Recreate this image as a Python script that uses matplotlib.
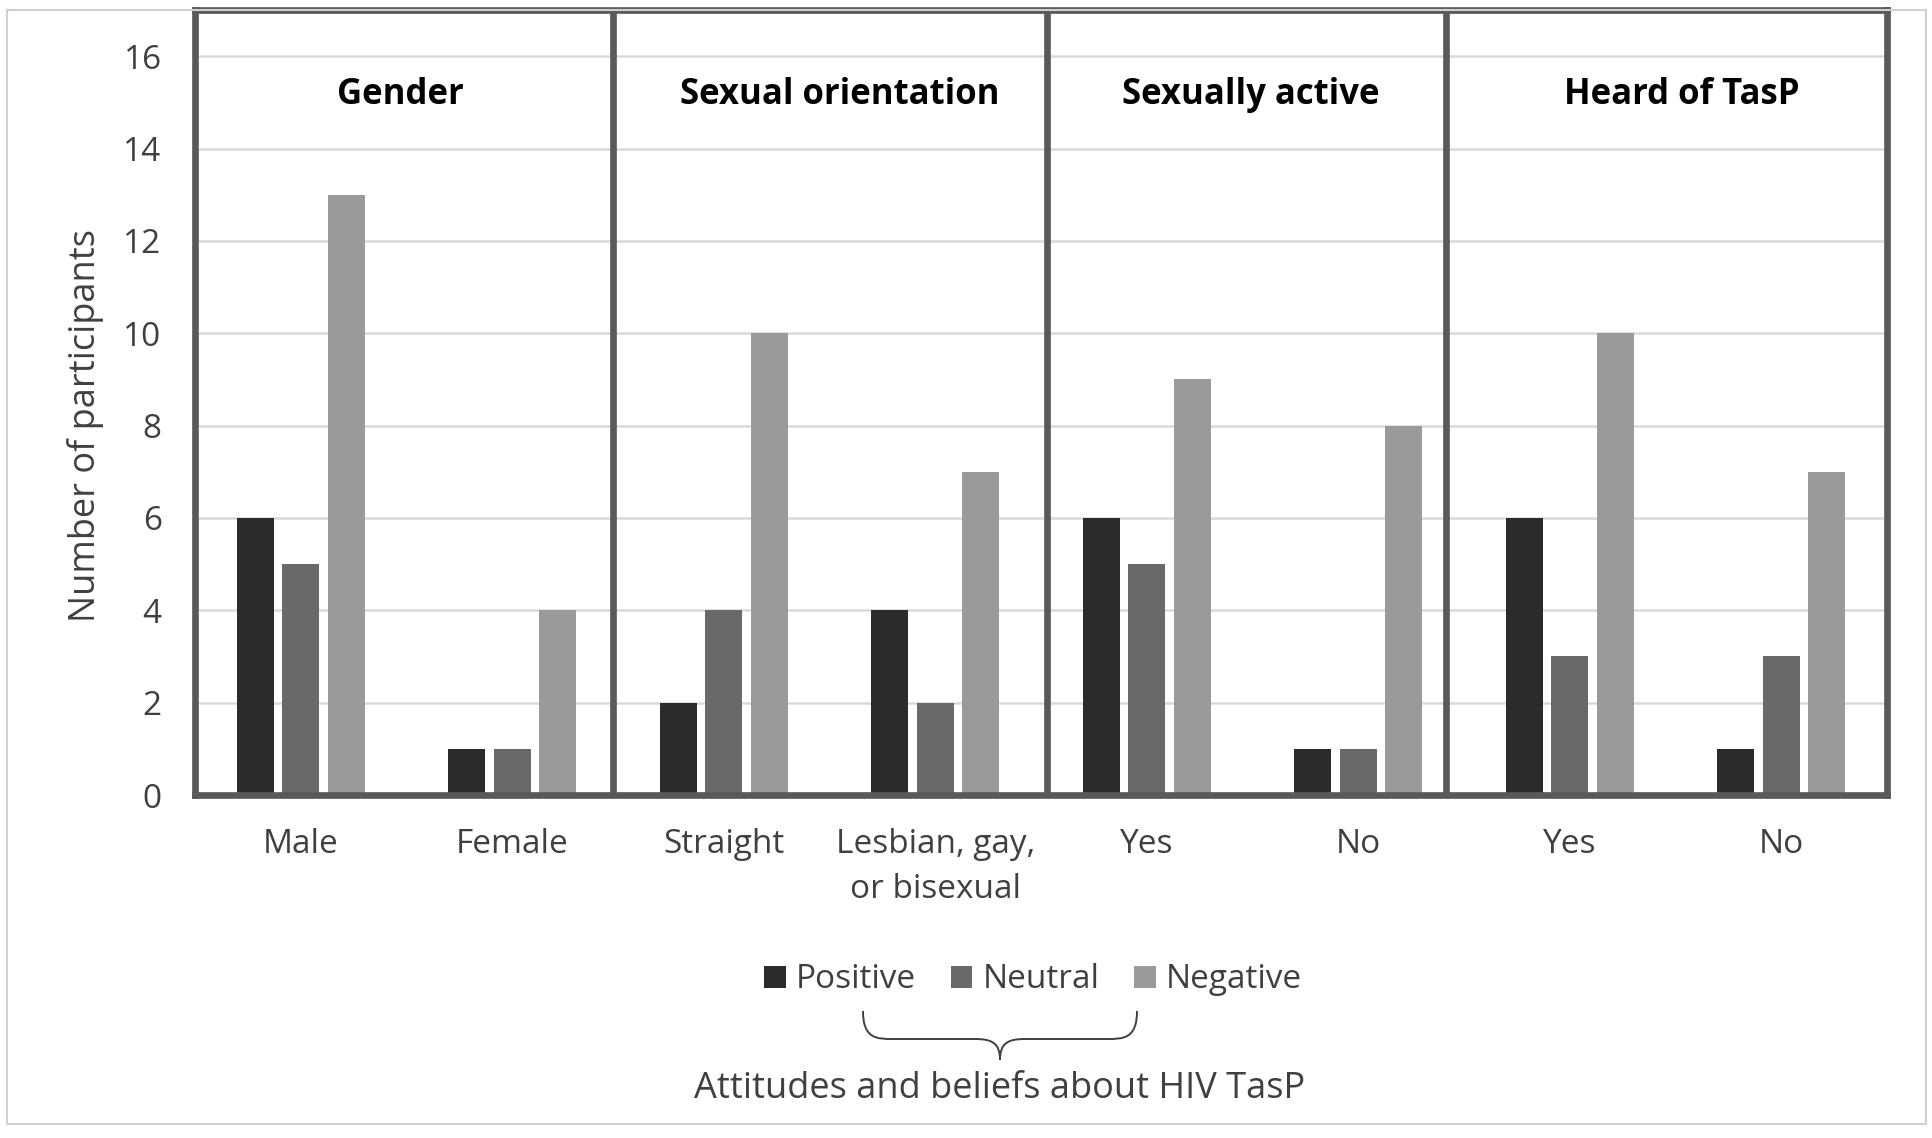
import matplotlib
matplotlib.use("Agg")
import matplotlib.pyplot as plt
from matplotlib.patches import Patch, Rectangle, PathPatch
from matplotlib.path import Path
import numpy as np

categories = ["Male", "Female", "Straight", "Lesbian, gay,\nor bisexual", "Yes", "No", "Yes", "No"]
positive = [6, 1, 2, 4, 6, 1, 6, 1]
neutral = [5, 1, 4, 2, 5, 1, 3, 3]
negative = [13, 4, 10, 7, 9, 8, 10, 7]
series_names = ["Positive", "Neutral", "Negative"]
group_titles = ["Gender", "Sexual orientation", "Sexually active", "Heard of TasP"]
yticks = [0, 2, 4, 6, 8, 10, 12, 14, 16]

colors = ["#2b2b2b", "#696969", "#9a9a9a"]
FONT = "Open Sans"
TXT = "#404040"

W, H = 1933, 1138
fig = plt.figure(figsize=(W / 100, H / 100), dpi=100)
plt.rcParams['font.family'] = [FONT, 'DejaVu Sans']

def fx(px):
    return px / W

def fy(py):
    return 1 - py / H

# outer light border
fig.patches.append(Rectangle((fx(7), fy(1124)), fx(1926) - fx(7), fy(10) - fy(1124),
                             transform=fig.transFigure, fill=False, edgecolor="#d0d0d0", lw=1.5))

ax = fig.add_axes([fx(195), fy(795), fx(1887) - fx(195), fy(10) - fy(795)])
x = np.arange(len(categories))
w = 0.175
step = 0.216
for i, (vals, c, name) in enumerate(zip([positive, neutral, negative], colors, series_names)):
    ax.bar(x + (i - 1) * step, vals, width=w, color=c, label=name, zorder=3)

ax.set_xlim(-0.5, len(categories) - 0.5)
ax.set_ylim(0, 17)
ax.set_yticks(yticks)
ax.set_yticklabels([str(t) for t in yticks], fontsize=24, color=TXT)
ax.set_xticks(x)
ax.set_xticklabels(categories, fontsize=24, color=TXT, linespacing=1.45, va="top")
ax.tick_params(axis="both", length=0)
ax.tick_params(axis="y", pad=24)
ax.tick_params(axis="x", pad=24)
ax.grid(axis="y", color="#d9d9d9", lw=1.8, zorder=0)
ax.set_axisbelow(True)
for s in ax.spines.values():
    s.set_color("#595959")
    s.set_linewidth(4.8)
    s.set_zorder(5)

# panel dividers
for d in [1.476, 3.53, 5.415]:
    ax.axvline(d, color="#595959", lw=4.8, zorder=5)

# panel titles
for xt, title in zip([0.473, 2.55, 4.49, 6.53], group_titles):
    ax.text(xt, 15.15, title, ha="center", va="center", fontsize=25, fontweight="bold",
            color="black", zorder=6)

# y label
fig.text(fx(86), fy(425), "Number of participants", rotation=90, ha="center", va="center",
         fontsize=26, color=TXT)

# legend
handles = [Patch(facecolor=c, edgecolor="none", label=n) for c, n in zip(colors, series_names)]
fig.legend(handles=handles, loc="center", bbox_to_anchor=(fx(1033), fy(980)), ncol=3,
           frameon=False, fontsize=24, handlelength=0.65, handleheight=0.65,
           handletextpad=0.3, columnspacing=1.05, labelcolor=TXT)

# brace
L, R, C, T, M, B = 863, 1137, 1000, 1011, 1039, 1060
verts = [(L, T), (L, M), (L + 14, M), (L + 30, M),
         (C - 25, M),
         (C - 8, M), (C, M + 4), (C, B),
         (C, M + 4), (C + 8, M), (C + 25, M),
         (R - 30, M),
         (R - 14, M), (R, M), (R, T)]
codes = [Path.MOVETO, Path.CURVE4, Path.CURVE4, Path.CURVE4,
         Path.LINETO,
         Path.CURVE4, Path.CURVE4, Path.CURVE4,
         Path.CURVE4, Path.CURVE4, Path.CURVE4,
         Path.LINETO,
         Path.CURVE4, Path.CURVE4, Path.CURVE4]
path = Path([(fx(a), fy(b)) for a, b in verts], codes)
fig.patches.append(PathPatch(path, transform=fig.transFigure, fill=False, edgecolor="#404040", lw=1.4))

fig.text(fx(1000), fy(1089), "Attitudes and beliefs about HIV TasP", ha="center", va="center",
         fontsize=26, color=TXT)

fig.savefig("out.png", dpi=100)
